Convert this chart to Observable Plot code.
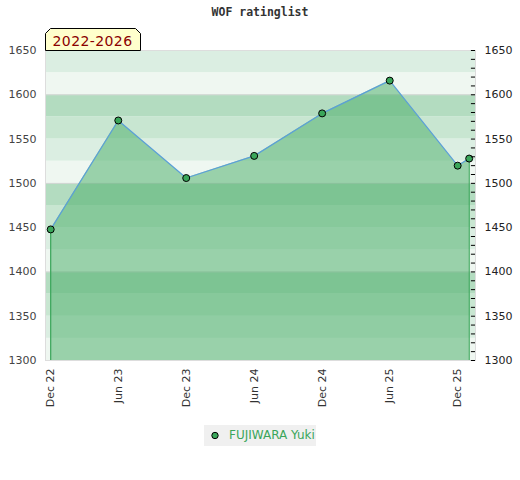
<!DOCTYPE html>
<html>
<head>
<meta charset="utf-8">
<script src="https://cdn.jsdelivr.net/npm/d3@7"></script>
<script src="https://cdn.jsdelivr.net/npm/@observablehq/plot@0.6"></script>
<style>
  html, body { margin: 0; padding: 0; background: #fff; }
  #wrap { position: relative; width: 520px; height: 480px; font-family: "DejaVu Sans", sans-serif; }
  #wrap svg.plot { position: absolute; left: 0; top: 0; }
  #title { position: absolute; left: 0; width: 520px; top: 5px; text-align: center;
    font-family: "DejaVu Sans Mono", monospace; font-weight: bold; font-size: 11.5px; color: #333; }
  #legend { position: absolute; left: 204px; top: 425px; width: 112px; height: 21px; background: #f0f0f0;
    font-size: 12px; color: #3aa65a; white-space: nowrap; }
</style>
</head>
<body>
<div id="wrap">
  <div id="title">WOF ratinglist</div>
</div>
<script>
// ---- data ----
const dates = ["2022-12-01","2023-06-01","2023-12-01","2024-06-01","2024-12-01","2025-06-01","2025-12-01","2026-01-01"];
const ratings = [1448, 1571, 1506, 1531, 1579, 1616, 1520, 1528];
const player = "FUJIWARA Yuki";
const periodLabel = "2022-2026";
const xTickDates = ["2022-12-01","2023-06-01","2023-12-01","2024-06-01","2024-12-01","2025-06-01","2025-12-01"];
const yTicks = [1300, 1350, 1400, 1450, 1500, 1550, 1600, 1650];
const yMinorTicks = [1300,1310,1320,1330,1340,1350,1360,1370,1380,1390,1400,1410,1420,1430,1440,1450,1460,1470,1480,1490,1500,1510,1520,1530,1540,1550,1560,1570,1580,1590,1600,1610,1620,1630,1640,1650];
const bandLows = [1300,1325,1350,1375,1400,1425,1450,1475,1500,1525,1550,1575,1600,1625];
const bandShades = ["#eff7f1","#dbeee2","#c8e6d1","#b3dcc0"];
const gridLines = [1400, 1500, 1600];
const yDomain = [1300, 1650];
const xDomain = ["2022-11-17","2026-01-18"];
const minorTickStart = "2026-01-07";

const parse = d3.utcParse("%Y-%m-%d");
const data = dates.map((d, i) => ({date: parse(d), rating: ratings[i]}));
const bands = bandLows.map((lo, i) => ({lo, hi: lo + 25, shade: bandShades[i % 4]}));
const ends = [data[0], data[data.length - 1]];

const green = "#3aa65a";

const chart = Plot.plot({
  width: 520,
  height: 410,
  marginTop: 50,
  marginBottom: 50,
  marginLeft: 45,
  marginRight: 45,
  style: {fontFamily: "DejaVu Sans, sans-serif", fontSize: "11px", background: "transparent"},
  x: {type: "utc", domain: xDomain.map(parse)},
  y: {domain: yDomain},
  marks: [
    Plot.rectY(bands, {x1: () => parse(xDomain[0]), x2: () => parse(xDomain[1]), y1: "lo", y2: "hi", fill: "shade"}),
    Plot.ruleY(gridLines, {stroke: "#d6d6d6"}),
    Plot.frame({stroke: "#dddddd"}),
    Plot.areaY(data, {x: "date", y1: yDomain[0], y2: "rating", fill: "rgb(74,175,106)", fillOpacity: 0.52}),
    Plot.ruleX(ends, {x: "date", y1: yDomain[0], y2: "rating", stroke: green, strokeWidth: 1.2}),
    Plot.line(data, {x: "date", y: "rating", stroke: "#5b9fd8", strokeWidth: 1.2}),
    Plot.dot(data, {x: "date", y: "rating", r: 3.5, fill: green, stroke: "#000", strokeWidth: 1}),
    Plot.ruleY(yMinorTicks, {x1: () => parse(minorTickStart), x2: () => parse(xDomain[1]), stroke: "#000"}),
    Plot.axisY({anchor: "left", ticks: yTicks, tickSize: 0, tickPadding: 9, tickFormat: d3.format("d"), fill: "#444", label: null}),
    Plot.axisY({anchor: "right", ticks: yTicks, tickSize: 0, tickPadding: 9, tickFormat: d3.format("d"), fill: "#222", label: null}),
    Plot.axisX({ticks: xTickDates.map(parse), tickFormat: d3.utcFormat("%b %y"), tickRotate: -90, tickSize: 0, tickPadding: 8, fill: "#333", label: null})
  ]
});
chart.classList.add("plot");
const wrap = document.getElementById("wrap");
wrap.insertBefore(chart, wrap.firstChild);

// period label tab
const svg = d3.select(chart);
const g = svg.append("g");
g.append("path")
  .attr("d", "M45.5,50.5 L45.5,33.5 L50.5,28.5 L135.5,28.5 L140.5,33.5 L140.5,50.5 Z")
  .attr("fill", "#ffffcc").attr("stroke", "#000").attr("stroke-width", 1);
g.append("text").attr("x", 92.5).attr("y", 46).attr("text-anchor", "middle")
  .attr("fill", "#8b0000").attr("font-size", "14px").attr("letter-spacing", "0.4px").attr("font-family", "DejaVu Sans, sans-serif")
  .text(periodLabel);

// legend
const leg = document.createElement("div");
leg.id = "legend";
leg.innerHTML = `<svg width="112" height="21" style="position:absolute;left:0;top:0"><circle cx="11" cy="10.5" r="3.2" fill="${green}" stroke="#000"/></svg><span style="position:absolute;left:25px;top:3px">${player}</span>`;
wrap.appendChild(leg);
</script>
</body>
</html>
